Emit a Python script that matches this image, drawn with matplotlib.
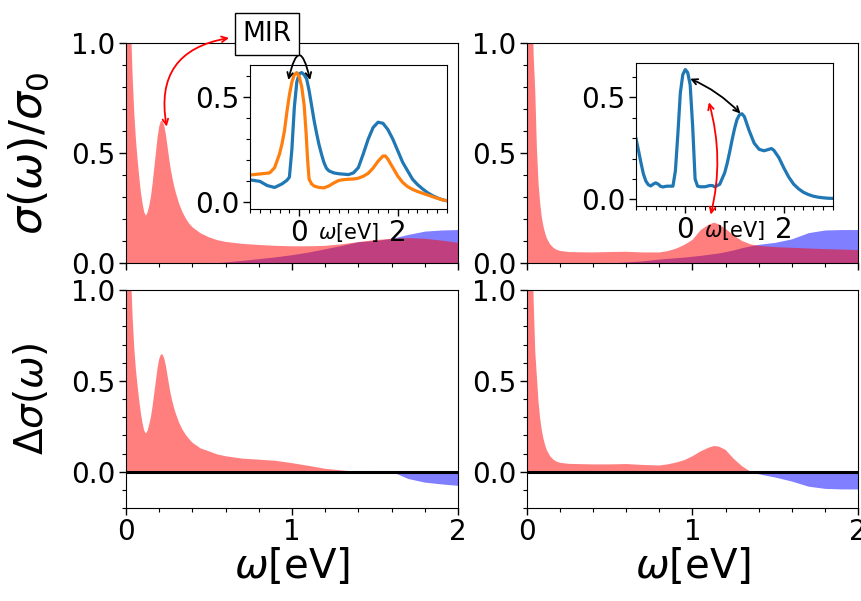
import matplotlib
matplotlib.use("Agg")
import matplotlib.pyplot as plt
from matplotlib.ticker import MultipleLocator
import numpy as np

# ---------------- data ----------------
omega_l = [0.00, 0.02, 0.03, 0.04, 0.05, 0.06, 0.07, 0.08, 0.09, 0.10, 0.11, 0.12,
           0.13, 0.14, 0.15, 0.16, 0.17, 0.18, 0.19, 0.20, 0.21, 0.22, 0.23, 0.24,
           0.25, 0.26, 0.27, 0.28, 0.29, 0.30, 0.32, 0.34, 0.36, 0.38, 0.40, 0.45,
           0.50, 0.55, 0.60, 0.70, 0.80, 0.90, 1.00, 1.10, 1.20, 1.30, 1.40, 1.50,
           1.60, 1.70, 1.80, 1.90, 2.00]
sigma_red_l = [4.0, 1.6, 1.08, 0.85, 0.68, 0.56, 0.47, 0.39, 0.32, 0.27, 0.23, 0.215,
               0.23, 0.26, 0.30, 0.36, 0.43, 0.50, 0.57, 0.62, 0.645, 0.645, 0.625, 0.585,
               0.53, 0.475, 0.425, 0.385, 0.35, 0.32, 0.27, 0.232, 0.203, 0.18, 0.163, 0.135,
               0.117, 0.104, 0.096, 0.087, 0.082, 0.078, 0.076, 0.076, 0.078, 0.085, 0.095, 0.104,
               0.110, 0.113, 0.110, 0.102, 0.092]
sigma_blue_l = [0.0, 0.0, 0.0, 0.0, 0.0, 0.0, 0.0, 0.0, 0.0, 0.0, 0.0, 0.0,
                0.0, 0.0, 0.0, 0.0, 0.0, 0.0, 0.0, 0.0, 0.0, 0.0, 0.0, 0.0,
                0.0, 0.0, 0.0, 0.0, 0.0, 0.0, 0.0, 0.0, 0.0, 0.0, 0.0, 0.0,
                0.0, 0.002, 0.005, 0.012, 0.020, 0.028, 0.038, 0.050, 0.065, 0.080, 0.097, 0.102,
                0.112, 0.130, 0.145, 0.150, 0.152]
dsigma_l = [4.0, 1.6, 1.08, 0.85, 0.68, 0.56, 0.47, 0.39, 0.32, 0.265, 0.225, 0.21,
            0.225, 0.26, 0.30, 0.36, 0.43, 0.50, 0.57, 0.62, 0.645, 0.645, 0.625, 0.585,
            0.53, 0.475, 0.425, 0.385, 0.35, 0.32, 0.27, 0.232, 0.203, 0.18, 0.160, 0.128,
            0.112, 0.095, 0.085, 0.072, 0.066, 0.060, 0.047, 0.032, 0.016, 0.007, -0.002, 0.004,
            0.0, -0.040, -0.060, -0.070, -0.078]

omega_r = [0.00, 0.02, 0.03, 0.04, 0.05, 0.06, 0.07, 0.08, 0.09, 0.10, 0.11, 0.12,
           0.14, 0.16, 0.18, 0.20, 0.25, 0.30, 0.40, 0.50, 0.60, 0.70, 0.80, 0.85,
           0.90, 0.95, 1.00, 1.05, 1.10, 1.13, 1.16, 1.20, 1.25, 1.30, 1.35, 1.40,
           1.50, 1.60, 1.70, 1.80, 1.90, 2.00]
sigma_red_r = [4.0, 2.0, 1.4, 0.95, 0.78, 0.52, 0.36, 0.27, 0.205, 0.165, 0.135, 0.112,
               0.085, 0.069, 0.060, 0.055, 0.050, 0.049, 0.048, 0.050, 0.051, 0.048, 0.048, 0.054,
               0.065, 0.082, 0.105, 0.150, 0.175, 0.183, 0.176, 0.155, 0.125, 0.100, 0.085, 0.078,
               0.072, 0.069, 0.066, 0.063, 0.061, 0.059]
sigma_blue_r = [0.0, 0.0, 0.0, 0.0, 0.0, 0.0, 0.0, 0.0, 0.0, 0.0, 0.0, 0.0,
                0.0, 0.0, 0.0, 0.0, 0.0, 0.0, 0.0, 0.0, 0.005, 0.010, 0.018, 0.021,
                0.024, 0.027, 0.031, 0.035, 0.040, 0.043, 0.046, 0.052, 0.060, 0.070, 0.078, 0.085,
                0.094, 0.110, 0.138, 0.150, 0.152, 0.152]
dsigma_r = [4.0, 2.0, 1.4, 0.95, 0.66, 0.52, 0.38, 0.29, 0.225, 0.18, 0.145, 0.118,
            0.085, 0.066, 0.055, 0.049, 0.043, 0.042, 0.040, 0.040, 0.042, 0.037, 0.034, 0.040,
            0.050, 0.063, 0.085, 0.112, 0.133, 0.141, 0.138, 0.120, 0.070, 0.030, 0.0, -0.012,
            -0.030, -0.052, -0.080, -0.092, -0.095, -0.095]

# inset data
inset_x_bl = [-1.0, -0.8, -0.65, -0.5, -0.35, -0.25, -0.2, -0.15, -0.1, -0.05, 0.0, 0.05,
              0.1, 0.15, 0.2, 0.25, 0.3, 0.35, 0.4, 0.45, 0.5, 0.55, 0.6, 0.7,
              0.8, 0.9, 1.0, 1.1, 1.2, 1.3, 1.4, 1.5, 1.6, 1.7, 1.8, 1.9,
              2.0, 2.1, 2.2, 2.3, 2.4, 2.5, 2.6, 2.7, 2.8, 2.9, 3.0]
inset_y_bl = [0.107, 0.100, 0.080, 0.071, 0.088, 0.105, 0.120, 0.250, 0.450, 0.570, 0.610, 0.615,
              0.605, 0.585, 0.530, 0.460, 0.390, 0.330, 0.275, 0.230, 0.190, 0.163, 0.150, 0.140,
              0.136, 0.134, 0.132, 0.140, 0.165, 0.230, 0.300, 0.355, 0.380, 0.375, 0.345, 0.300,
              0.245, 0.190, 0.150, 0.110, 0.085, 0.065, 0.047, 0.033, 0.022, 0.013, 0.008]
inset_x_or = [-1.0, -0.8, -0.6, -0.5, -0.4, -0.35, -0.3, -0.25, -0.2, -0.15, -0.1, -0.05,
              0.0, 0.05, 0.1, 0.14, 0.17, 0.2, 0.25, 0.3, 0.4, 0.5, 0.6, 0.7,
              0.8, 0.9, 1.0, 1.1, 1.2, 1.3, 1.4, 1.5, 1.6, 1.7, 1.75, 1.8,
              1.9, 2.0, 2.1, 2.2, 2.3, 2.4, 2.5, 2.6, 2.7, 2.8, 2.9, 3.0]
inset_y_or = [0.130, 0.135, 0.140, 0.165, 0.230, 0.278, 0.340, 0.430, 0.510, 0.570, 0.605, 0.615,
              0.595, 0.548, 0.460, 0.326, 0.200, 0.110, 0.088, 0.078, 0.071, 0.069, 0.078, 0.092,
              0.104, 0.108, 0.110, 0.111, 0.115, 0.124, 0.138, 0.163, 0.195, 0.220, 0.220, 0.205,
              0.165, 0.125, 0.095, 0.075, 0.062, 0.052, 0.044, 0.036, 0.028, 0.020, 0.013, 0.008]
inset_x_br = [-1.0, -0.95, -0.9, -0.85, -0.8, -0.75, -0.7, -0.65, -0.6, -0.55, -0.5, -0.45,
              -0.4, -0.35, -0.3, -0.25, -0.2, -0.15, -0.1, -0.05, 0.0, 0.05, 0.1, 0.15,
              0.2, 0.25, 0.3, 0.4, 0.5, 0.55, 0.6, 0.7, 0.8, 0.85, 0.9, 0.95,
              1.0, 1.05, 1.1, 1.15, 1.2, 1.3, 1.4, 1.5, 1.6, 1.7, 1.75, 1.8,
              1.9, 2.0, 2.1, 2.2, 2.3, 2.4, 2.5, 2.6, 2.7, 2.8, 2.9, 3.0]
inset_y_br = [0.297, 0.240, 0.180, 0.125, 0.090, 0.072, 0.066, 0.075, 0.081, 0.075, 0.064, 0.061,
              0.064, 0.065, 0.065, 0.065, 0.140, 0.320, 0.520, 0.610, 0.635, 0.620, 0.560, 0.360,
              0.100, 0.065, 0.062, 0.062, 0.068, 0.068, 0.062, 0.074, 0.130, 0.175, 0.230, 0.290,
              0.345, 0.390, 0.414, 0.419, 0.405, 0.335, 0.275, 0.245, 0.238, 0.245, 0.249, 0.240,
              0.205, 0.155, 0.110, 0.075, 0.052, 0.035, 0.024, 0.016, 0.011, 0.008, 0.006, 0.005]

RED = (1.0, 0.0, 0.0, 0.5)
BLUE = (0.0, 0.0, 1.0, 0.5)

W, H = 862, 601
fig = plt.figure(figsize=(W / 100, H / 100), dpi=100)


def rect(x0, y0, x1, y1):
    return [x0 / W, 1 - y1 / H, (x1 - x0) / W, (y1 - y0) / H]


ax_tl = fig.add_axes(rect(126, 43, 458, 263))
ax_tr = fig.add_axes(rect(527, 43, 858, 263))
ax_bl = fig.add_axes(rect(126, 290, 458, 508))
ax_br = fig.add_axes(rect(527, 290, 858, 508))

TICK_FS = 20


def style_main(ax, ylim, showx):
    ax.set_xlim(0, 2)
    ax.set_ylim(*ylim)
    ax.xaxis.set_major_locator(MultipleLocator(1))
    ax.xaxis.set_minor_locator(MultipleLocator(0.2))
    ax.yaxis.set_major_locator(MultipleLocator(0.5))
    ax.yaxis.set_minor_locator(MultipleLocator(0.1))
    ax.tick_params(which='major', length=5, width=1.0, labelsize=TICK_FS, pad=2.5)
    ax.tick_params(which='minor', length=3, width=0.8)
    if not showx:
        ax.tick_params(labelbottom=False)


for ax, om, blue, red in [(ax_tl, omega_l, sigma_blue_l, sigma_red_l),
                          (ax_tr, omega_r, sigma_blue_r, sigma_red_r)]:
    om = np.array(om)
    ax.fill_between(om, 0, blue, color=BLUE, lw=0)
    ax.fill_between(om, 0, red, color=RED, lw=0)
    style_main(ax, (0, 1), False)

for ax, om, d in [(ax_bl, omega_l, dsigma_l), (ax_br, omega_r, dsigma_r)]:
    om = np.array(om)
    d = np.array(d)
    ax.fill_between(om, 0, d, where=d >= 0, interpolate=True, color=RED, lw=0)
    ax.fill_between(om, 0, d, where=d <= 0, interpolate=True, color=BLUE, lw=0)
    ax.axhline(0, color='black', lw=2.2)
    style_main(ax, (-0.2, 1), True)
    ax.set_xlabel(r'$\omega$[eV]', fontsize=29, labelpad=0)

ax_tl.set_ylabel(r'$\sigma(\omega)/\sigma_0$', fontsize=32)
ax_bl.set_ylabel(r'$\Delta\sigma(\omega)$', fontsize=28)
ax_tl.yaxis.set_label_coords(-0.225, 0.5)
ax_bl.yaxis.set_label_coords(-0.225, 0.5)

# insets
ax_il = fig.add_axes(rect(250, 65, 447, 209))
ax_ir = fig.add_axes(rect(636, 63, 833, 206))
ax_il.plot(inset_x_bl, inset_y_bl, color='C0', lw=2.3)
ax_il.plot(inset_x_or, inset_y_or, color='C1', lw=2.3)
ax_ir.plot(inset_x_br, inset_y_br, color='C0', lw=2.3)
for ax, yl, ly in [(ax_il, (-0.031, 0.651), -0.16), (ax_ir, (-0.032, 0.667), -0.168)]:
    ax.set_xlim(-1, 3)
    ax.set_ylim(*yl)
    ax.xaxis.set_major_locator(MultipleLocator(2))
    ax.xaxis.set_minor_locator(MultipleLocator(0.2))
    ax.yaxis.set_major_locator(MultipleLocator(0.5))
    ax.yaxis.set_minor_locator(MultipleLocator(0.1))
    ax.tick_params(which='major', length=5, width=1.0, labelsize=TICK_FS, pad=2.5)
    ax.tick_params(which='minor', length=3, width=0.8)
    ax.text(0.5, ly, r'$\omega$[eV]', transform=ax.transAxes, ha='center',
            va='center', fontsize=15, clip_on=False)

# annotations
fig.text(267 / W, 1 - 34 / H, 'MIR', fontsize=19, ha='center', va='center',
         bbox=dict(boxstyle='square,pad=0.3', fc='white', ec='black', lw=1.0))
ax_tl.annotate('', xy=(0.245, 0.62), xycoords='data',
               xytext=(229, H - 38), textcoords='figure pixels',
               arrowprops=dict(arrowstyle='<->', color='red', lw=1.3,
                               connectionstyle='arc3,rad=0.5',
                               shrinkA=0, shrinkB=0),
               annotation_clip=False)
ax_il.annotate('', xy=(0.22, 0.58), xytext=(-0.22, 0.58),
               arrowprops=dict(arrowstyle='<->', color='black', lw=1.3,
                               connectionstyle='arc3,rad=-2.2',
                               shrinkA=0, shrinkB=0),
               annotation_clip=False)
ax_ir.annotate('', xy=(1.12, 0.42), xytext=(0.1, 0.59),
               arrowprops=dict(arrowstyle='<->', color='black', lw=1.3,
                               connectionstyle='arc3,rad=-0.1',
                               shrinkA=0, shrinkB=0),
               annotation_clip=False)
ax_ir.annotate('', xy=(1.11, 0.22), xycoords=ax_tr.transData,
               xytext=(0.48, 0.475), textcoords='data',
               arrowprops=dict(arrowstyle='<->', color='red', lw=1.3,
                               connectionstyle='arc3,rad=-0.13',
                               shrinkA=0, shrinkB=0),
               annotation_clip=False)

fig.savefig('out.png', dpi=100)
